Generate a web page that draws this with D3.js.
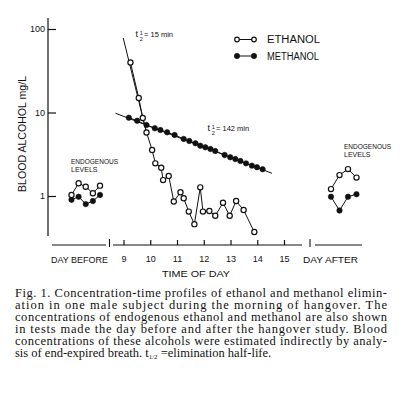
<!DOCTYPE html>
<html>
<head>
<meta charset="utf-8">
<script src="https://cdn.jsdelivr.net/npm/d3@7"></script>
<style>
html, body { margin: 0; padding: 0; background: #fff; }
svg { display: block; }
.lab { font-family: "Liberation Sans", Arial, sans-serif; fill: #111; }
.cap { font-family: "Liberation Serif", "Times New Roman", serif; font-size: 12.5px; fill: #111; }
</style>
</head>
<body>
<svg id="chart" width="411" height="398"></svg>
<script>
// hangover morning, clock time (h) of each breath test
const ethanolHours = [9.26, 9.57, 9.72, 9.86, 10.07, 10.19, 10.41, 10.48, 10.69, 10.88, 11.13, 11.25,
    11.44, 11.65, 11.87, 11.97, 12.21, 12.43, 12.72, 12.97, 13.21, 13.49, 13.89];
const ethanolValues = [39.7, 14.9, 8.6, 5.76, 3.56, 2.46, 2.18, 1.55, 1.74, 0.86, 1.11, 0.94,
    0.65, 0.46, 1.27, 0.65, 0.66, 0.58, 0.83, 0.58, 0.87, 0.68, 0.37];
const methanolHours = [9.20, 9.51, 9.86, 10.17, 10.38, 10.63, 10.91, 11.25, 11.46, 11.69, 11.87, 12.06,
    12.25, 12.43, 12.78, 12.99, 13.18, 13.37, 13.58, 13.80, 13.99, 14.20];
const methanolValues = [8.67, 7.97, 7.08, 6.47, 6.17, 5.79, 5.38, 4.82, 4.56, 4.28, 4.00, 3.83,
    3.66, 3.46, 3.10, 2.91, 2.77, 2.63, 2.46, 2.31, 2.21, 2.09];

// elimination lines, end points
const ethanolFitHours = [8.99, 9.86];
const ethanolFitValues = [78, 5.76];
const methanolFitHours = [8.70, 14.55];
const methanolFitValues = [9.8, 1.87];

// endogenous levels, by sample number
const beforeEthanol = [1.03, 1.42, 1.29, 1.08, 1.33];
const beforeMethanol = [0.90, 0.98, 0.80, 0.87, 1.03];
const afterEthanol = [1.21, 1.78, 2.10, 1.66];
const afterMethanol = [0.98, 0.67, 0.98, 1.05];

const hourTicks = [9, 10, 11, 12, 13, 14, 15];
const yTicks = [1, 10, 100];

const INK = '#111';
const svg = d3.select('#chart');

const y = d3.scaleLog().domain([1, 100]).range([196, 29]);
const x = d3.scaleLinear().domain([9, 15]).range([123.5, 284]);
const xBefore = d3.scaleLinear().domain([0, beforeEthanol.length - 1]).range([71.5, 100]);
const xAfter = d3.scaleLinear().domain([0, afterEthanol.length - 1]).range([331, 356.5]);

function label(tx, ty, size, str) {
    return svg.append('text').attr('class', 'lab').attr('fill', INK)
        .attr('font-size', size).attr('x', tx).attr('y', ty).text(str);
}

// y axis
svg.append('line').attr('x1', 48).attr('x2', 48).attr('y1', 18).attr('y2', 236)
    .attr('stroke', INK).attr('stroke-width', 1.2);
const yAxis = svg.append('g').attr('transform', 'translate(48,0)')
    .call(d3.axisLeft(y).tickValues(yTicks).tickFormat(d3.format('d')).tickSize(-8).tickPadding(3));
yAxis.select('.domain').remove();
yAxis.selectAll('line').attr('stroke', INK).attr('stroke-width', 1.2);
yAxis.selectAll('text').attr('class', 'lab').attr('font-size', 9).attr('fill', INK);

svg.append('text').attr('class', 'lab').attr('fill', INK).attr('font-size', 10.5)
    .attr('text-anchor', 'middle').attr('transform', 'translate(26,134) rotate(-90)')
    .attr('textLength', 116).attr('lengthAdjust', 'spacingAndGlyphs')
    .text('BLOOD  ALCOHOL  mg/L');

// x axis
const AXIS_Y = 245;
const xAxis = svg.append('g').attr('transform', `translate(0,${AXIS_Y})`)
    .call(d3.axisBottom(x).tickValues(hourTicks).tickFormat(d3.format('d')).tickSize(-5).tickPadding(11));
xAxis.select('.domain').remove();
xAxis.selectAll('line').attr('stroke', INK).attr('stroke-width', 1.2);
xAxis.selectAll('text').attr('class', 'lab').attr('font-size', 9).attr('fill', INK);

[[52, 106], [113, 302], [315, 362]].forEach(([a, b]) => {
    svg.append('line').attr('x1', a).attr('x2', b).attr('y1', AXIS_Y).attr('y2', AXIS_Y)
        .attr('stroke', INK).attr('stroke-width', 1.1);
});
[109.5, 310].forEach(bx => {
    svg.append('line').attr('x1', bx).attr('x2', bx).attr('y1', AXIS_Y - 6).attr('y2', AXIS_Y + 2)
        .attr('stroke', INK).attr('stroke-width', 1.1);
});

label(51, 263, 9, 'DAY BEFORE').attr('textLength', 57).attr('lengthAdjust', 'spacingAndGlyphs');
label(303, 263, 9, 'DAY AFTER').attr('textLength', 55).attr('lengthAdjust', 'spacingAndGlyphs');
label(162, 276.5, 9, 'TIME OF DAY').attr('textLength', 68).attr('lengthAdjust', 'spacingAndGlyphs');

// series
const line = d3.line().x(d => d[0]).y(d => d[1]);

function drawSeries(xs, ys, filled) {
    const pts = xs.map((px, i) => [px, y(ys[i])]);
    svg.append('path').attr('d', line(pts)).attr('fill', 'none').attr('stroke', INK).attr('stroke-width', 1);
    svg.selectAll(null).data(pts).enter().append('circle')
        .attr('cx', d => d[0]).attr('cy', d => d[1]).attr('r', filled ? 2.7 : 2.6)
        .attr('fill', filled ? INK : '#fff').attr('stroke', INK).attr('stroke-width', filled ? 0.6 : 1.2);
}

// fit lines
[[methanolFitHours, methanolFitValues], [ethanolFitHours, ethanolFitValues]].forEach(([hs, vs]) => {
    svg.append('path').attr('d', line(hs.map((h, i) => [x(h), y(vs[i])])))
        .attr('fill', 'none').attr('stroke', INK).attr('stroke-width', 1);
});

drawSeries(methanolHours.map(x), methanolValues, true);
drawSeries(ethanolHours.map(x), ethanolValues, false);
drawSeries(beforeMethanol.map((d, i) => xBefore(i)), beforeMethanol, true);
drawSeries(beforeEthanol.map((d, i) => xBefore(i)), beforeEthanol, false);
drawSeries(afterMethanol.map((d, i) => xAfter(i)), afterMethanol, true);
drawSeries(afterEthanol.map((d, i) => xAfter(i)), afterEthanol, false);

// half-life notes
function halfLife(hx, hy, rest) {
    label(hx, hy, 9, 't');
    label(hx + 4.3, hy - 2, 5.5, '1');
    label(hx + 4.3, hy + 4, 5.5, '2');
    label(hx + 8.5, hy, 7.5, rest);
}
halfLife(135.5, 37, '= 15 min');
halfLife(207.5, 131, '= 142  min');

// endogenous labels
function endo(ex, ey) {
    label(ex, ey, 7, 'ENDOGENOUS').attr('textLength', 47).attr('lengthAdjust', 'spacingAndGlyphs');
    label(ex, ey + 8, 7, 'LEVELS');
}
endo(71, 163.5);
endo(344, 149);

// legend
function legendRow(ly, str, filled) {
    svg.append('line').attr('x1', 237).attr('x2', 254).attr('y1', ly).attr('y2', ly)
        .attr('stroke', INK).attr('stroke-width', 1);
    [237, 254].forEach(cx => svg.append('circle').attr('cx', cx).attr('cy', ly).attr('r', filled ? 2.7 : 2.3)
        .attr('fill', filled ? INK : '#fff').attr('stroke', INK).attr('stroke-width', filled ? 0.6 : 1.2));
    label(267, ly + 3.8, 10, str)
        .attr('textLength', str.length > 7 ? 52 : 53).attr('lengthAdjust', 'spacingAndGlyphs');
}
legendRow(39.5, 'ETHANOL', false);
legendRow(56, 'METHANOL', true);

// caption
const captionLines = [
    'Fig. 1. Concentration-time profiles of ethanol and methanol elimin-',
    'ation in one male subject during the morning of hangover. The',
    'concentrations of endogenous ethanol and methanol are also shown',
    'in tests made the day before and after the hangover study. Blood',
    'concentrations of these alcohols were estimated indirectly by analy-'
];
captionLines.forEach((txt, i) => {
    svg.append('text').attr('class', 'cap').attr('x', 15).attr('y', 296.5 + i * 12)
        .attr('textLength', 372).attr('lengthAdjust', 'spacing').text(txt);
});
const last = svg.append('text').attr('class', 'cap').attr('x', 15).attr('y', 296.5 + 5 * 12);
last.append('tspan').text('sis of end-expired breath. t');
last.append('tspan').attr('font-size', 7).attr('dy', 2).text('1/2');
last.append('tspan').attr('dy', -2).text(' =elimination half-life.');
</script>
</body>
</html>
